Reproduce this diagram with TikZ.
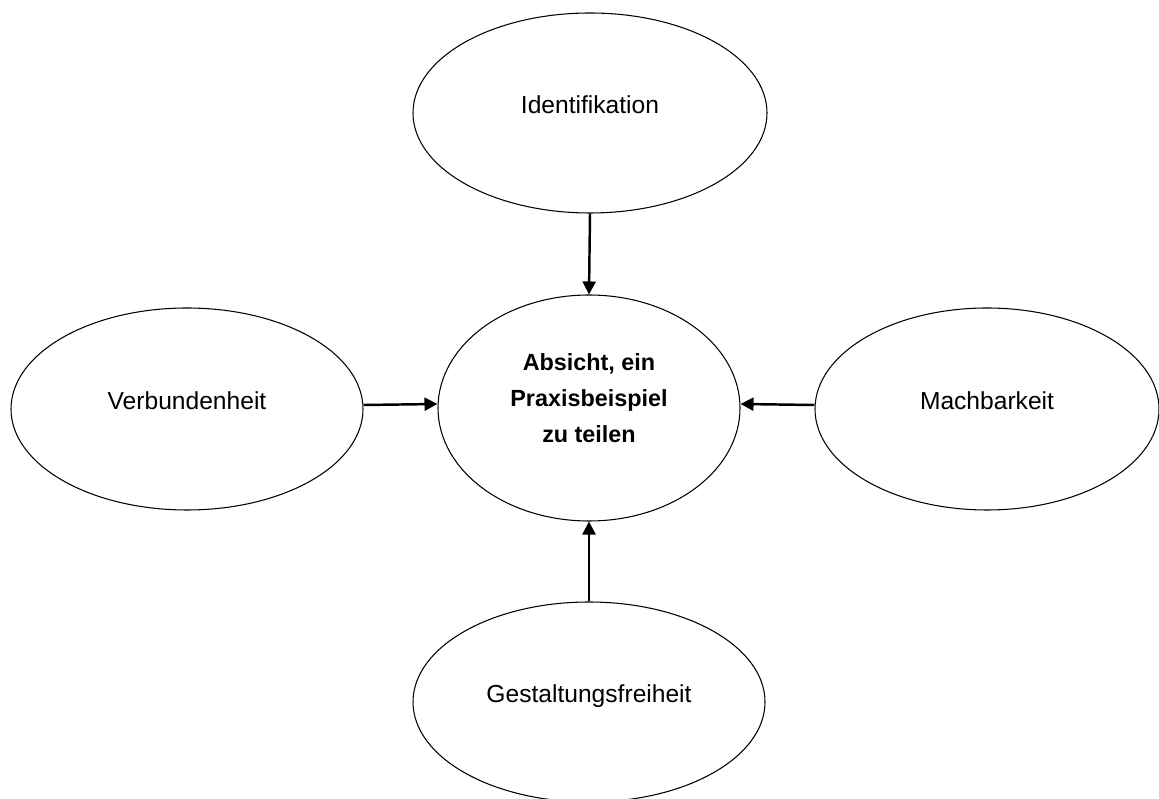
\documentclass[tikz,border=0pt]{standalone}
\usepackage{fontspec}
\setmainfont{Liberation Sans}
\usetikzlibrary{shapes.geometric,arrows.meta}

\begin{document}
\begin{tikzpicture}[
    every node/.style={font=\fontsize{14}{17}\selectfont},
    >={Triangle[length=2.6mm,width=2.6mm]},
    factor/.style={ellipse, draw=black, line width=0.6pt, inner sep=0pt,
        text height=0.35cm, text depth=0.32cm,
        minimum width=7.04cm, minimum height=4.04cm},
    link/.style={->, line width=1.4pt},
]

% === Frame (picture size) ===
\useasboundingbox (0,0) rectangle (23.18,15.96);

% === Central ellipse (text sits a little above the middle) ===
\node[factor, minimum width=6.04cm, minimum height=4.52cm,
      text height=1.5cm, text depth=0.13cm,
      align=center, font=\fontsize{13.3}{20.5}\selectfont\bfseries]
    (intent) at (11.78,7.8) {Absicht, ein\\Praxisbeispiel\\zu teilen};

% === Surrounding factors ===
\node[factor, minimum width=7.08cm, minimum height=4.0cm] (ident) at (11.8,13.7) {Identifikation};
\node[factor] (verb) at (3.74,7.78) {Verbundenheit};
\node[factor, minimum width=6.88cm] (mach) at (19.74,7.78) {Machbarkeit};
\node[factor, minimum height=4.0cm] (gestalt) at (11.78,1.92) {Gestaltungsfreiheit};

% === Arrows into the centre ===
\draw[link] (ident.south) -- (intent.north);
\draw[link] ([yshift=0.08cm]verb.east) -- ([yshift=0.08cm]intent.west);
\draw[link] ([yshift=0.08cm]mach.west) -- ([yshift=0.08cm]intent.east);
\draw[link] (gestalt.north) -- (intent.south);

\end{tikzpicture}
\end{document}
